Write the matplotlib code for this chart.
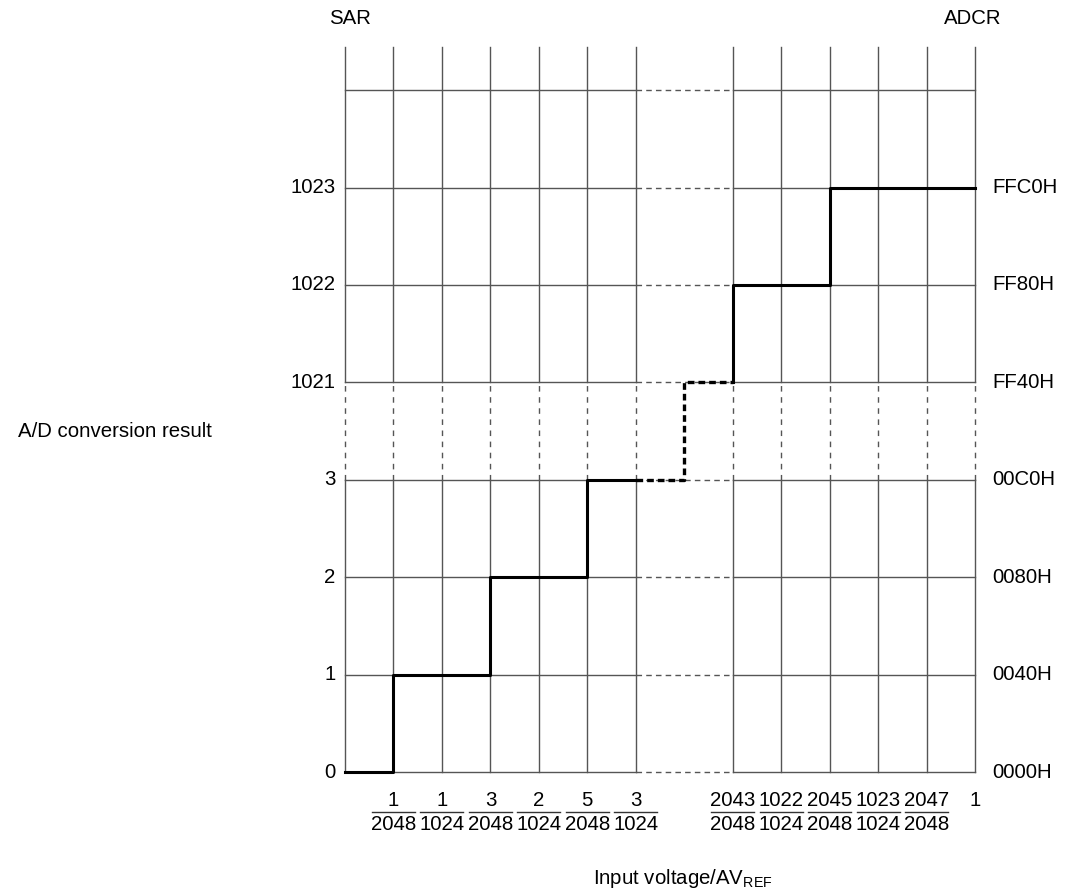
import matplotlib
matplotlib.use("Agg")
import matplotlib.pyplot as plt

plt.rcParams['font.family'] = ['Liberation Sans', 'DejaVu Sans']

# codes on the left (SAR) and right (ADCR) side, one per grid row
sar_codes = ['0', '1', '2', '3', '1021', '1022', '1023']
adcr_codes = ['0000H', '0040H', '0080H', '00C0H', 'FF40H', 'FF80H', 'FFC0H']

# input voltage ticks (numerator, denominator) on the grid columns
low_cols = [1, 2, 3, 4, 5, 6]
low_fracs = [('1', '2048'), ('1', '1024'), ('3', '2048'), ('2', '1024'), ('5', '2048'), ('3', '1024')]
high_cols = [8, 9, 10, 11, 12]
high_fracs = [('2043', '2048'), ('1022', '1024'), ('2045', '2048'), ('1023', '1024'), ('2047', '2048')]

# transfer staircase (column, row), drawn steps-post
low_x = [0, 1, 3, 5, 6]
low_y = [0, 1, 2, 3, 3]
gap_x = [6, 7, 8]
gap_y = [3, 4, 4]
high_x = [8, 8, 10, 13]
high_y = [4, 5, 6, 6]

fig = plt.figure(figsize=(10.66, 8.93), dpi=100)
ax = fig.add_axes([345 / 1066, (893 - 772) / 893, 630 / 1066, (772 - 47) / 893])
ymax = (772 - 47) / 97.4
ax.set_xlim(0, 13)
ax.set_ylim(0, ymax)
ax.axis('off')

gc = '#555555'
# vertical grid lines
for c in list(range(0, 7)) + list(range(8, 14)):
    ax.plot([c, c], [0, 3], color=gc, lw=1, clip_on=False)
    ax.plot([c, c], [4, ymax], color=gc, lw=1, clip_on=False)
    ax.plot([c, c], [3, 4], color=gc, lw=1, ls=(0, (4, 4)), clip_on=False)
# horizontal grid lines
for r in range(8):
    ax.plot([0, 6], [r, r], color=gc, lw=1, clip_on=False)
    ax.plot([8, 13], [r, r], color=gc, lw=1, clip_on=False)
    ax.plot([6, 8], [r, r], color=gc, lw=1, ls=(0, (4, 3)), clip_on=False)

# staircase
ax.plot(low_x, low_y, drawstyle='steps-post', color='black', lw=2.2, clip_on=False)
ax.plot(gap_x, gap_y, drawstyle='steps-post', color='black', lw=2.4, ls=(0, (2, 1.2)), clip_on=False)
ax.plot(high_x, high_y, drawstyle='steps-post', color='black', lw=2.2, clip_on=False)

fs = 14.7
for r, (s, a) in enumerate(zip(sar_codes, adcr_codes)):
    ax.text(-0.2, r, s, ha='right', va='center', fontsize=fs)
    ax.text(13.35, r, a, ha='left', va='center', fontsize=fs)

# fraction tick labels
col_w = 630 / 13
def frac(col, num, den):
    ax.annotate(num, (col, 0), xytext=(0, -28), textcoords='offset pixels',
                ha='center', va='center', fontsize=fs, annotation_clip=False)
    ax.annotate(den, (col, 0), xytext=(0, -52), textcoords='offset pixels',
                ha='center', va='center', fontsize=fs, annotation_clip=False)
    half = 21.5 / col_w
    ax.plot([col - half, col + half], [-40 / 97.4, -40 / 97.4], color='#333333', lw=1, clip_on=False)

for c, (n, d) in zip(low_cols, low_fracs):
    frac(c, n, d)
for c, (n, d) in zip(high_cols, high_fracs):
    frac(c, n, d)
ax.annotate('1', (13, 0), xytext=(0, -28), textcoords='offset pixels',
            ha='center', va='center', fontsize=fs, annotation_clip=False)

fig.text(350 / 1066, 1 - 19 / 893, 'SAR', ha='center', va='center', fontsize=fs)
fig.text(973 / 1066, 1 - 19 / 893, 'ADCR', ha='center', va='center', fontsize=fs)
fig.text(212 / 1066, 1 - 431 / 893, 'A/D conversion result', ha='right', va='center', fontsize=fs)
fig.text(593 / 1066, 1 - 878 / 893, r'Input voltage/AV$_{\mathregular{REF}}$', ha='left', va='center', fontsize=fs)

fig.savefig('out.png', dpi=100)
